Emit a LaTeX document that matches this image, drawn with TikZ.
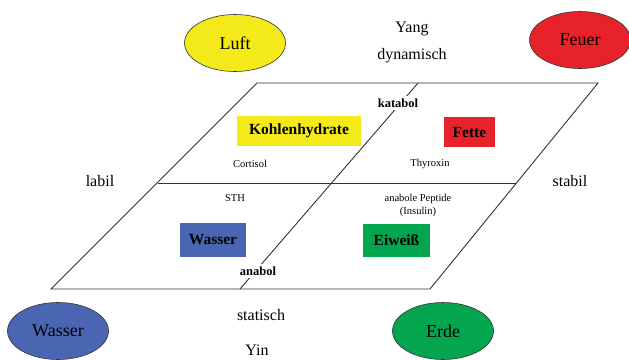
\documentclass[tikz,border=0pt]{standalone}
\usepackage{fontspec}
\setmainfont{Liberation Serif}
\usetikzlibrary{shapes.geometric}
\definecolor{cyel}{HTML}{F4EA1A}
\definecolor{cred}{HTML}{E8222A}
\definecolor{cblue}{HTML}{4A66B2}
\definecolor{cgreen}{HTML}{03A64F}
\definecolor{cline}{HTML}{333333}
\tikzset{
  elem/.style={ellipse, draw=cline, line width=0.6pt, minimum width=101pt, minimum height=57pt, inner sep=0pt, font=\fontsize{18}{20}\selectfont},
  food/.style={inner sep=0pt, minimum height=30pt, font=\fontsize{15.5}{18}\selectfont\bfseries},
  big/.style={inner sep=0pt, font=\fontsize{16}{18}\selectfont},
  small/.style={inner sep=0pt, font=\fontsize{10.5}{12}\selectfont},
  mlabel/.style={fill=white, inner sep=3pt, font=\fontsize{12.5}{14}\selectfont\bfseries},
  frame/.style={draw=cline, line width=0.9pt}
}
\begin{document}
\begin{tikzpicture}[x=1pt, y=-1pt]
\useasboundingbox (0,0) rectangle (629,359);
% corners
\coordinate (tl) at (257,83);
\coordinate (tr) at (598,83);
\coordinate (bl) at (51,289);
\coordinate (br) at (430,289);
\coordinate (ml) at (158,183);
\coordinate (mr) at (516,183);
\coordinate (ct) at (418,83);
\coordinate (cb) at (240,289);
\draw[frame] (tl) -- (tr) -- (br) -- (bl) -- cycle;
\draw[frame] (ml) -- (mr);
\draw[frame] (ct) -- (cb);
% labels on the divider
\node[mlabel] (katabol) at (398,103) {katabol};
\node[mlabel] (anabol) at (258,271) {anabol};
% ellipses
\node[elem, fill=cyel] (luft) at (235,43) {Luft};
\node[elem, fill=cred] (feuer) at (580,40) {Feuer};
\node[elem, fill=cblue] (wasserE) at (58,331) {Wasser};
\node[elem, fill=cgreen] (erde) at (443,331) {Erde};
% texts
\node[big] (yang) at (412,29) {Yang};
\node[big] (dyn) at (412,56) {dynamisch};
\node[big] (labil) at (100,181) {labil};
\node[big] (stabil) at (570,181) {stabil};
\node[big] (statisch) at (261,315) {statisch};
\node[big] (yin) at (257,350) {Yin};
% food boxes
\node[food, fill=cyel, minimum width=124pt] (kh) at (299,131) {Kohlenhydrate};
\node[food, fill=cred, minimum width=51pt] (fette) at (469.5,132) {Fette};
\node[food, fill=cblue, minimum width=66pt, minimum height=34pt] (wasserB) at (213,240) {Wasser};
\node[food, fill=cgreen, minimum width=67pt, minimum height=33pt] (eiweiss) at (396.5,240.5) {Eiweiß};
% hormones
\node[small] (cortisol) at (250,164) {Cortisol};
\node[small] (thyroxin) at (430,164) {Thyroxin};
\node[small] (sth) at (235,198) {STH};
\node[small, align=center] (peptide) at (418,205) {anabole Peptide\\[1pt](Insulin)};
\end{tikzpicture}
\end{document}
